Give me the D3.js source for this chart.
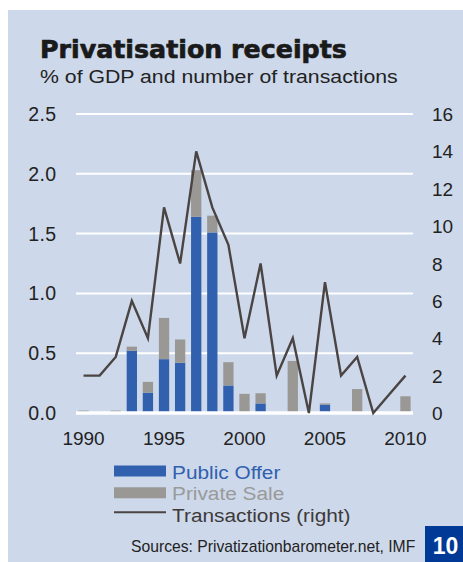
<!DOCTYPE html>
<html><head><meta charset="utf-8">
<script src="https://cdn.jsdelivr.net/npm/d3@7"></script>
<style>
html,body{margin:0;padding:0;background:#fff;}
svg{display:block;}
text{font-family:"Liberation Sans",Arial,sans-serif;}
</style></head>
<body>
<svg id="chart" width="463" height="562"></svg>
<script>
// ---- data ----
const years = [1990,1991,1992,1993,1994,1995,1996,1997,1998,1999,2000,2001,2002,2003,2004,2005,2006,2007,2008,2009,2010];
const publicOffer = [0,0,0,0.52,0.17,0.45,0.42,1.64,1.51,0.23,0,0.08,0,0,0,0.07,0,0,0,0,0];
const privateSale = [0.02,0,0.02,0.035,0.09,0.345,0.195,0.39,0.14,0.195,0.16,0.085,0,0.435,0,0.01,0,0.2,0,0,0.14];
const transactions = [2,2,3,6,4,11,8,14,11,9,4,8,2,4,0,7,2,3,0,1,2];
const leftTicks = [0,0.5,1.0,1.5,2.0,2.5];
const rightTicks = [0,2,4,6,8,10,12,14,16];
const yearTicks = [1990,1995,2000,2005,2010];
const seriesNames = ["Public Offer","Private Sale","Transactions (right)"];

const C = {bg:"#cdd8ea", blue:"#3060ae", gray:"#9a9895", line:"#4a4443", text:"#222"};

const svg = d3.select("#chart");
svg.append("rect").attr("x",8).attr("y",10).attr("width",455).attr("height",552).attr("fill",C.bg);

// titles
svg.append("text").attr("x",40).attr("y",58).attr("fill","#1a1a1a")
  .attr("stroke","#1a1a1a").attr("stroke-width",0.7).attr("stroke-linejoin","round")
  .style("font-family","'DejaVu Sans',sans-serif").style("font-weight","bold").style("font-size","25.3px")
  .text("Privatisation receipts");
svg.append("text").attr("transform","translate(40,82.5) scale(1.15,1)").attr("fill",C.text)
  .style("font-size","18.5px")
  .text("% of GDP and number of transactions");

// scales
const x = d3.scaleBand().domain(years).range([75.5,413.5]).paddingInner(0.36).paddingOuter(0.18);
const yL = d3.scaleLinear().domain([0,2.5]).range([413,114]);
const yR = d3.scaleLinear().domain([0,16]).range([413,114]);

// gridlines
svg.append("g").selectAll("line").data(leftTicks.filter(d=>d>0)).join("line")
  .attr("x1",76).attr("x2",413).attr("y1",d=>yL(d)).attr("y2",d=>yL(d))
  .attr("stroke","#fff").attr("stroke-width",2);

// left axis labels
svg.append("g").selectAll("text").data(leftTicks).join("text")
  .attr("x",56.5).attr("y",d=>yL(d)+7).attr("text-anchor","end")
  .attr("fill",C.text).style("font-size","19.5px").style("letter-spacing","0.4px")
  .text(d=>d3.format(".1f")(d));
// right axis labels
svg.append("g").selectAll("text").data(rightTicks).join("text")
  .attr("x",432).attr("y",d=>yR(d)+7).attr("text-anchor","start")
  .attr("fill",C.text).style("font-size","19px")
  .text(d=>d);

// stacked bars
const rows = years.map((yr,i)=>({year:yr, po:publicOffer[i], ps:privateSale[i]}));
const stack = d3.stack().keys(["po","ps"])(rows);
const colors = {po:C.blue, ps:C.gray};
svg.append("g").selectAll("g").data(stack).join("g").attr("fill",d=>colors[d.key])
  .selectAll("rect").data(d=>d.filter(s=>s[1]-s[0]>0)).join("rect")
  .attr("x",d=>x(d.data.year)).attr("width",x.bandwidth())
  .attr("y",d=>yL(d[1])).attr("height",d=>yL(d[0])-yL(d[1]));

// baseline
svg.append("line").attr("x1",76).attr("x2",413).attr("y1",413).attr("y2",413)
  .attr("stroke","#fff").attr("stroke-width",3.5);

// line
const lineGen = d3.line().x((d,i)=>x(years[i])+x.bandwidth()/2).y(d=>yR(d));
svg.append("path").datum(transactions).attr("d",lineGen)
  .attr("fill","none").attr("stroke",C.line).attr("stroke-width",2.4).attr("stroke-linejoin","miter");

// x labels
svg.append("g").selectAll("text").data(yearTicks).join("text")
  .attr("x",d=>x(d)+x.bandwidth()/2).attr("y",444.5).attr("text-anchor","middle")
  .attr("fill",C.text).style("font-size","19px").text(d=>d);

// legend
const lg = svg.append("g");
lg.append("rect").attr("x",114).attr("y",465.5).attr("width",52).attr("height",11).attr("fill",C.blue);
lg.append("rect").attr("x",114).attr("y",487.3).attr("width",52).attr("height",11).attr("fill",C.gray);
lg.append("line").attr("x1",114).attr("x2",166).attr("y1",512.3).attr("y2",512.3).attr("stroke",C.line).attr("stroke-width",2);
const legColors = [C.blue,"#9a9a9a","#3d3a3a"];
lg.selectAll("text").data(seriesNames).join("text")
  .attr("transform",(d,i)=>`translate(172,${478.5+i*21.7}) scale(1.12,1)`).attr("fill",(d,i)=>legColors[i])
  .style("font-size","18.6px").text(d=>d);

// footer
svg.append("text").attr("x",131).attr("y",551.5).attr("fill",C.text)
  .style("font-size","15.7px").text("Sources: Privatizationbarometer.net, IMF");
svg.append("rect").attr("x",425).attr("y",526).attr("width",38).attr("height",36).attr("fill","#003a96");
svg.append("text").attr("x",445.5).attr("y",554.3).attr("text-anchor","middle").attr("fill","#fff")
  .style("font-weight","bold").style("font-size","23px").text("10");
</script>
</body></html>
